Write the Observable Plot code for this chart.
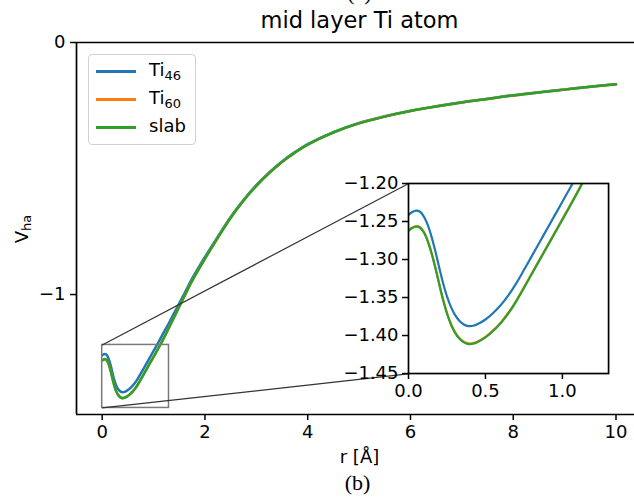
<!DOCTYPE html>
<html><head><meta charset="utf-8">
<script src="https://cdn.jsdelivr.net/npm/d3@7"></script>
<script src="https://cdn.jsdelivr.net/npm/@observablehq/plot@0.6"></script>
<style>
body{margin:0;background:#fff;}
#fig{position:relative;width:634px;height:502px;overflow:hidden;font-family:"DejaVu Sans",sans-serif;background:#fff;color:#000;}
.abs{position:absolute;white-space:nowrap;}
</style></head><body><div id="fig"></div>
<script>
// ---------- data ----------
const r = [0,0.025,0.05,0.075,0.1,0.125,0.15,0.175,0.2,0.225,0.25,0.275,0.3,0.33,0.36,0.39,0.42,0.45,
  0.5,0.55,0.6,0.65,0.7,0.75,0.8,0.85,0.9,0.95,1.0,1.05,1.1,1.15,1.2,1.3,1.4,1.5,1.6,1.75,
  2.0,2.25,2.5,2.75,3.0,3.25,3.5,3.75,4.0,4.5,5.0,5.5,6.0,6.5,7.0,7.5,8.0,8.5,9.0,9.5,10.0];
const ti46 = [-1.2413,-1.2375,-1.2357,-1.2372,-1.2435,-1.2545,-1.2702,-1.2895,-1.3110,-1.3313,-1.3485,-1.3620,-1.3722,-1.3805,-1.3855,-1.3876,-1.3872,-1.3849,
  -1.3789,-1.3704,-1.3599,-1.3469,-1.3314,-1.3139,-1.2959,-1.2779,-1.2599,-1.2419,-1.2239,-1.2059,-1.1874,-1.1684,-1.1494,-1.1130,-1.0740,-1.0350,-0.9960,-0.9370,
  -0.8510,-0.7700,-0.6920,-0.6250,-0.5660,-0.5155,-0.4718,-0.4350,-0.4032,-0.3553,-0.3195,-0.2928,-0.2708,-0.2530,-0.2370,-0.2231,-0.2091,-0.1972,-0.1862,-0.1752,-0.1652];
const ti60 = [-1.2615,-1.2577,-1.2559,-1.2574,-1.2637,-1.2752,-1.2912,-1.3107,-1.3322,-1.3527,-1.3702,-1.3842,-1.3947,-1.4032,-1.4082,-1.4104,-1.4100,-1.4077,
  -1.4017,-1.3932,-1.3827,-1.3697,-1.3542,-1.3367,-1.3187,-1.3007,-1.2827,-1.2647,-1.2467,-1.2287,-1.2102,-1.1912,-1.1722,-1.1313,-1.0894,-1.0475,-1.0065,-0.9455,
  -0.8575,-0.7746,-0.6956,-0.6277,-0.5688,-0.5178,-0.4738,-0.4369,-0.4049,-0.3569,-0.3209,-0.2939,-0.2719,-0.2539,-0.2379,-0.2239,-0.2099,-0.1979,-0.1869,-0.1759,-0.1659];
const slab = [-1.2623,-1.2585,-1.2567,-1.2582,-1.2645,-1.2760,-1.2920,-1.3115,-1.3330,-1.3535,-1.3710,-1.3850,-1.3955,-1.4040,-1.4090,-1.4112,-1.4108,-1.4085,
  -1.4025,-1.3940,-1.3835,-1.3705,-1.3550,-1.3375,-1.3195,-1.3015,-1.2835,-1.2655,-1.2475,-1.2295,-1.2110,-1.1920,-1.1730,-1.1320,-1.0900,-1.0480,-1.0070,-0.9460,
  -0.8580,-0.7750,-0.6960,-0.6280,-0.5690,-0.5180,-0.4740,-0.4370,-0.4050,-0.3570,-0.3210,-0.2940,-0.2720,-0.2540,-0.2380,-0.2240,-0.2100,-0.1980,-0.1870,-0.1760,-0.1660];
const seriesNames = ["Ti46","Ti60","slab"];
const legendBase = ["Ti","Ti","slab"];
const legendSub = ["46","60",""];
const colors = ["#1f77b4","#ff7f0e","#2ca02c"];
const mainXTicks = [0,2,4,6,8,10];
const mainYTicks = [0,-1];
const insetXTicks = [0,0.5,1.0];
const insetYTicks = [-1.45,-1.40,-1.35,-1.30,-1.25,-1.20];
const titleText = "mid layer Ti atom";
const xLabelText = "r [Å]";
const captionText = "(b)";
const topCutText = "(a)";

// ---------- layout ----------
const W = 634, H = 470, ml = 76, mr = 0, mt = 42, mb = 56;
const mainX = [-0.5, 10.36], mainY = [-1.476, 0];
const zoomX = [0, 1.3], zoomY = [-1.45, -1.20];
const insetBox = {x1: 5.956, x2: 9.85, y1: -1.3147, y2: -0.5607}; // inset placement in main data coords

const rows = [];
const seriesVals = [ti46, ti60, slab];
seriesNames.forEach((s, k) => r.forEach((rv, i) => rows.push({r: rv, v: seriesVals[k][i], series: s})));

const fig = document.getElementById("fig");
const baseStyle = {fontFamily: "DejaVu Sans, sans-serif", fontSize: "18px", color: "black", background: "transparent", overflow: "visible"};
const colorScale = {domain: seriesNames, range: colors};

const zoomRect = [{x1: zoomX[0], x2: zoomX[1], y1: zoomY[0], y2: zoomY[1]}];
const connectors = [
  {x1: zoomX[0], y1: zoomY[1], x2: insetBox.x1, y2: insetBox.y2},
  {x1: zoomX[0], y1: zoomY[0], x2: insetBox.x1, y2: insetBox.y1}
];

const main = Plot.plot({
  width: W, height: H, marginLeft: ml, marginRight: mr, marginTop: mt, marginBottom: mb,
  style: baseStyle,
  x: {domain: mainX}, y: {domain: mainY},
  color: colorScale,
  marks: [
    Plot.line(rows, {x: "r", y: "v", stroke: "series", z: "series", strokeWidth: 2.5, curve: "catmull-rom", clip: true}),
    Plot.rect(zoomRect, {x1: "x1", x2: "x2", y1: "y1", y2: "y2", fill: "none", stroke: "#7a7a7a", strokeWidth: 1.5}),
    Plot.link(connectors, {x1: "x1", y1: "y1", x2: "x2", y2: "y2", stroke: "#333", strokeWidth: 1.2}),
    Plot.ruleX([mainX[0]], {stroke: "black", strokeWidth: 1.7}),
    Plot.ruleY(mainY, {stroke: "black", strokeWidth: 1.7}),
    Plot.axisX(mainXTicks, {tickSize: 6, tickPadding: 5, label: null, strokeWidth: 1.5, fontSize: 18, tickFormat: d3.format("d")}),
    Plot.axisY(mainYTicks, {tickSize: 6, tickPadding: 5, label: null, strokeWidth: 1.5, fontSize: 18, tickFormat: d3.format("d")})
  ]
});
main.style.position = "absolute"; main.style.left = "0px"; main.style.top = "0px";
fig.appendChild(main);

const xs = d3.scaleLinear(mainX, [ml, W - mr]);
const ys = d3.scaleLinear(mainY, [H - mb, mt]);
const iml = 72, imr = 4, imt = 4, imb = 30;
const ix0 = xs(insetBox.x1), ix1 = xs(insetBox.x2), iy0 = ys(insetBox.y2), iy1 = ys(insetBox.y1);
const inset = Plot.plot({
  width: (ix1 - ix0) + iml + imr, height: (iy1 - iy0) + imt + imb,
  marginLeft: iml, marginRight: imr, marginTop: imt, marginBottom: imb,
  style: baseStyle,
  x: {domain: zoomX}, y: {domain: zoomY},
  color: colorScale,
  marks: [
    Plot.frame({fill: "white", stroke: "none"}),
    Plot.line(rows.filter(d => d.r <= 1.6), {x: "r", y: "v", stroke: "series", z: "series", strokeWidth: 2.2, curve: "catmull-rom", clip: true}),
    Plot.frame({stroke: "black", strokeWidth: 1.7}),
    Plot.axisX(insetXTicks, {tickSize: 6, tickPadding: 5, label: null, strokeWidth: 1.5, fontSize: 18, tickFormat: d3.format(".1f")}),
    Plot.axisY(insetYTicks, {tickSize: 6, tickPadding: 4, label: null, strokeWidth: 1.5, fontSize: 18, tickFormat: d3.format(".2f")})
  ]
});
inset.style.position = "absolute";
inset.style.left = (ix0 - iml) + "px";
inset.style.top = (iy0 - imt) + "px";
fig.appendChild(inset);

// ---------- texts ----------
const axCenter = (xs(mainX[0]) + xs(mainX[0]) + (xs(mainX[1]) - xs(mainX[0])) + 9) / 2;
function addDiv(html, css) {
  const d = document.createElement("div");
  d.className = "abs"; d.innerHTML = html; Object.assign(d.style, css); fig.appendChild(d); return d;
}
addDiv(topCutText, {left: "0px", width: (2 * axCenter) + "px", textAlign: "center", top: "-20px", fontFamily: "Liberation Serif, serif", fontSize: "22px"});
addDiv(titleText, {left: "0px", width: (2 * axCenter) + "px", textAlign: "center", top: "7px", fontSize: "22.5px"});
addDiv(xLabelText, {left: "0px", width: (2 * axCenter) + "px", textAlign: "center", top: "446px", fontSize: "18px"});
addDiv(captionText, {left: "0px", width: (2 * axCenter - 4) + "px", textAlign: "center", top: "470px", fontFamily: "Liberation Serif, serif", fontSize: "22px"});
addDiv('V<sub style="font-size:13px;vertical-align:-3px">ha</sub>', {left: "22px", top: (ys(-0.74)) + "px", fontSize: "18px", transform: "translate(-50%,-50%) rotate(-90deg)"});

// legend
const leg = addDiv("", {left: "88px", top: "54px", width: "106px", height: "89px", border: "1.3px solid #d0d0d0", borderRadius: "4px", background: "rgba(255,255,255,0.8)", fontSize: "18px"});
seriesNames.forEach((s, k) => {
  const yy = 16 + k * 28;
  const line = document.createElement("div");
  Object.assign(line.style, {position: "absolute", left: "7px", top: (yy - 1.5) + "px", width: "40px", height: "3px", background: colors[k]});
  leg.appendChild(line);
  const t = document.createElement("div");
  Object.assign(t.style, {position: "absolute", left: "60px", top: (yy - 12) + "px", lineHeight: "22px", whiteSpace: "nowrap"});
  t.innerHTML = legendBase[k] + (legendSub[k] ? '<sub style="font-size:13px;vertical-align:-4px">' + legendSub[k] + '</sub>' : "");
  leg.appendChild(t);
});
</script></body></html>
